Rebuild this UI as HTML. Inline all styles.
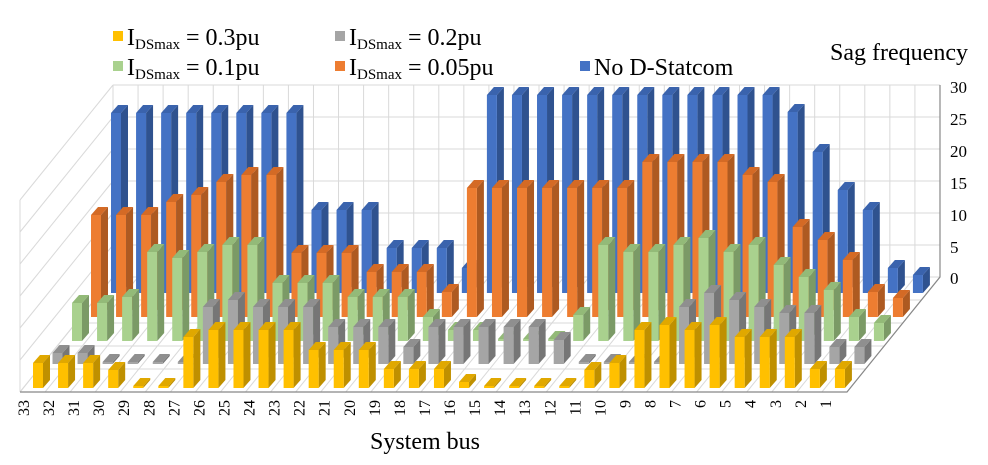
<!DOCTYPE html>
<html><head><meta charset="utf-8"><style>
html,body{margin:0;padding:0;background:#fff;}
svg{display:block;font-family:"Liberation Serif",serif;}
</style></head><body>
<svg id="c" width="988" height="465" viewBox="0 0 988 465" xmlns="http://www.w3.org/2000/svg"></svg>
<script>
const S=document.getElementById('c');let h='';
const sp=25.06;
h+='<g stroke="#d9d9d9" stroke-width="1" fill="none">';
for(let k=0;k<=6;k++){const y=277-k*32;h+=`<line x1="113" y1="${y}" x2="940" y2="${y}"/>`;h+=`<line x1="20" y1="${392-k*32}" x2="113" y2="${y}"/>`;}
for(let i=0;i<=33;i++){const x=113+i*sp;h+=`<line x1="${x}" y1="85" x2="${x}" y2="277"/>`;h+=`<line x1="${20+i*sp}" y1="392" x2="${x}" y2="277"/>`;}
for(let j=1;j<5;j++){const y=392-j*23,dx=j*23*93/115;h+=`<line x1="${20+dx}" y1="${y}" x2="${847+dx}" y2="${y}"/>`;}
h+='<line x1="20" y1="200" x2="20" y2="392"/>';
h+='</g>';
h+='<polyline points="20,392 847,392 940,277 940,85" fill="none" stroke="#888" stroke-width="1.2"/>';
const rows=[
 {c:['#4472C4','#2F528F','#3A63AD'],x0:111,b:293,v:[180,180,180,180,180,180,180,180,83,83,83,45,45,45,25,198,198,198,198,198,198,198,198,198,198,198,198,181,141,103,83,25,18]},
 {c:['#ED7D31','#AE5A21','#D46A25'],x0:91,b:317,v:[102,102,102,115,122,135,142,142,64,64,64,45,45,45,25,129,129,129,129,129,129,129,155,155,155,155,155,142,135,90,77,57,25]},
 {c:['#A9D18E','#7B9A66','#93BA78'],x0:72,b:341,v:[38,38,44,89,83,89,96,96,58,58,58,44,44,44,24,11,11,2,2,2,26,96,89,89,96,103,89,96,76,64,51,24,18]},
 {c:['#A5A5A5','#767676','#8F8F8F'],x0:52.5,b:364,v:[11,11,2,2,2,2,57,64,57,57,57,37,37,37,17,37,37,37,37,37,24,2,2,2,2,57,71,64,57,51,51,17,17]},
 {c:['#FFC000','#BF9000','#E0A800'],x0:33,b:388,v:[25,25,25,18,2,2,51,58,58,58,58,38,38,38,19,19,19,6,2,2,2,2,18,25,58,63,58,63,51,51,51,19,19]}
];
rows[1].v[32]=19;rows[1].v[31]=25;rows[1].v[30]=57;rows[1].v[29]=77;rows[1].v[28]=90;rows[1].v[27]=135;rows[1].v[26]=142;
for(const r of rows){
 for(let i=0;i<33;i++){
  const x=r.x0+i*sp,b=r.b,t=b-r.v[i],w=10,dx=7,dy=8;
  h+=`<polygon points="${x+w},${b} ${x+w},${t} ${x+w+dx},${t-dy} ${x+w+dx},${b-dy}" fill="${r.c[1]}"/>`;
  h+=`<rect x="${x}" y="${t}" width="${w}" height="${b-t}" fill="${r.c[0]}"/>`;
  h+=`<polygon points="${x},${t} ${x+dx},${t-dy} ${x+w+dx},${t-dy} ${x+w},${t}" fill="${r.c[2]}"/>`;
 }
}
const yl=[[30,87],[25,119],[20,151],[15,183],[10,215],[5,247],[0,278]];
for(const [v,y] of yl)h+=`<text x="950" y="${y+6}" font-size="17">${v}</text>`;
for(let k=33;k>=1;k--){const x=23+(33-k)*sp;h+=`<text transform="translate(${x+6},400) rotate(-90)" text-anchor="end" font-size="16">${k}</text>`;}
h+='<text x="425" y="449" text-anchor="middle" font-size="24">System bus</text>';
h+='<text x="968" y="60" text-anchor="end" font-size="24">Sag frequency</text>';
const lg=[[113,37,'#FFC000','0.3pu'],[335,37,'#A5A5A5','0.2pu'],[113,67,'#A9D18E','0.1pu'],[335,67,'#ED7D31','0.05pu']];
for(const [x,y,c,t] of lg){h+=`<rect x="${x}" y="${y-6}" width="10" height="10" fill="${c}"/>`;h+=`<text x="${x+14}" y="${y+8}" font-size="24">I<tspan font-size="15" dy="4">DSmax</tspan><tspan dy="-4"> = ${t}</tspan></text>`;}
h+='<rect x="580" y="61" width="10" height="10" fill="#4472C4"/><text x="594" y="75" font-size="24">No D-Statcom</text>';
S.innerHTML=h;
</script>
</body></html>
